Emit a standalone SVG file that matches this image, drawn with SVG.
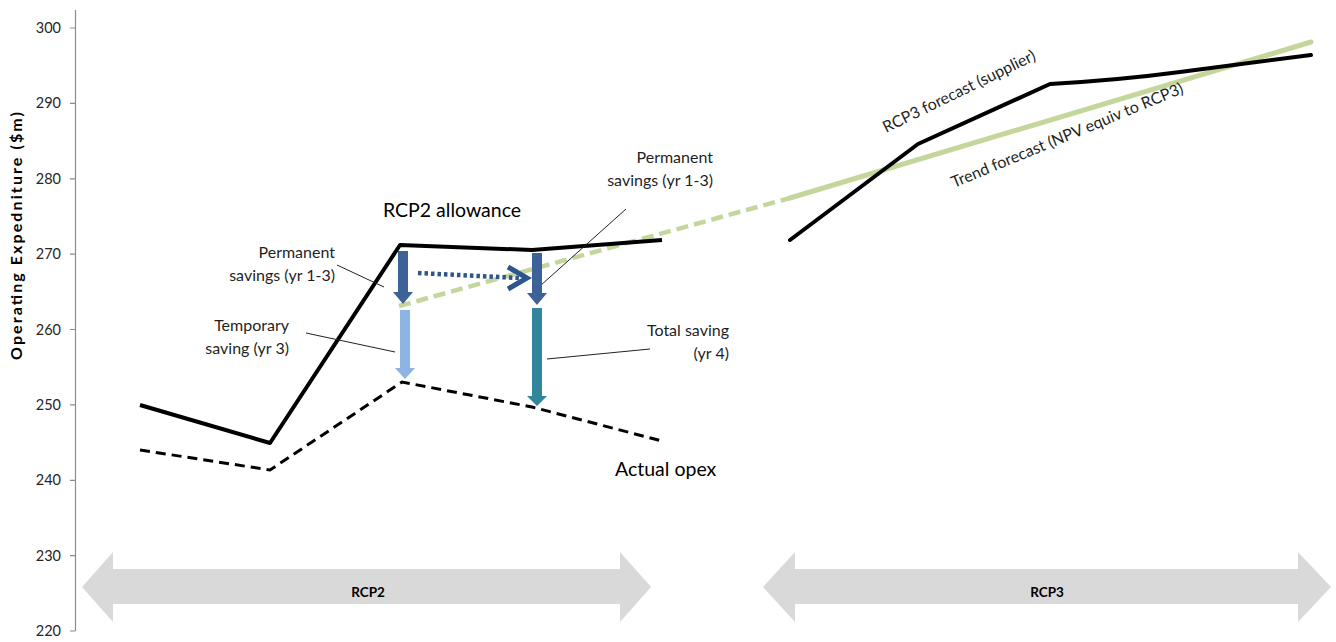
<svg xmlns="http://www.w3.org/2000/svg" width="1336" height="642" viewBox="0 0 1336 642">
<style>
.tick{font-family:Lato,"Liberation Sans",sans-serif;font-size:14.5px;fill:#262626;text-anchor:end}
.lbl{font-family:Lato,"Liberation Sans",sans-serif;font-size:16px;fill:#1f1f1f}
.big{font-family:Lato,"Liberation Sans",sans-serif;font-size:19.5px;fill:#000}
.band{font-family:Lato,"Liberation Sans",sans-serif;font-size:13.5px;font-weight:bold;fill:#000;text-anchor:middle}
.lead{stroke:#222;stroke-width:1;fill:none}
.axis{stroke:#8c8c8c;stroke-width:1.2;fill:none}
.gray{fill:#d9d9d9}
</style>
<rect width="1336" height="642" fill="#fff"/>
<g id="axis">
<path class="axis" d="M75.5,10 V631 M70,28 H75.5 M70,103.4 H75.5 M70,178.8 H75.5 M70,254.1 H75.5 M70,329.5 H75.5 M70,404.9 H75.5 M70,480.3 H75.5 M70,555.6 H75.5 M70,631 H75.5"/>
<text class="tick" x="61" y="33">300</text>
<text class="tick" x="61" y="108.4">290</text>
<text class="tick" x="61" y="183.8">280</text>
<text class="tick" x="61" y="259.1">270</text>
<text class="tick" x="61" y="334.5">260</text>
<text class="tick" x="61" y="409.9">250</text>
<text class="tick" x="61" y="485.3">240</text>
<text class="tick" x="61" y="560.6">230</text>
<text class="tick" x="61" y="636">220</text>
<text transform="translate(22,236) rotate(-90)" text-anchor="middle" font-family="Lato,'Liberation Sans',sans-serif" font-size="16" font-weight="bold" fill="#000" textLength="248" lengthAdjust="spacing">Operating Expedniture ($m)</text>
</g>
<g id="rcp2-band">
<path class="gray" d="M82,587 L113,552 L113,569 L620,569 L620,552 L651,587 L620,622 L620,604 L113,604 L113,622 Z"/>
<text class="band" x="368" y="597">RCP2</text>
</g>
<g id="rcp3-band">
<path class="gray" d="M763,587 L795,552 L795,569 L1298,569 L1298,552 L1331,587 L1298,622 L1298,604 L795,604 L795,622 Z"/>
<text class="band" x="1047" y="597">RCP3</text>
</g>
<g id="series">
<path id="trend-dashed" d="M399,306 L790,198" stroke="#c3d69b" stroke-width="4.5" fill="none" stroke-dasharray="12 6"/>
<path id="trend-solid" d="M790,198 L1311,42" stroke="#c3d69b" stroke-width="5" fill="none" stroke-linecap="round"/>
<path id="actual-opex" d="M140,450 L270,470 L402,382 L532,407 L662,441" stroke="#000" stroke-width="3" fill="none" stroke-dasharray="10 6"/>
<path id="rcp2-allowance" d="M140,405 L270,443 L400,245 L532,250 L662,240" stroke="#000" stroke-width="4" fill="none" stroke-linejoin="round"/>
<path id="rcp3-forecast" d="M790,240 L918,144 L1050,84 Q1120,80 1180,72 L1311,55" stroke="#000" stroke-width="4" fill="none" stroke-linejoin="round" stroke-linecap="round"/>
</g>
<g id="connectors">
<path class="lead" d="M337,265 L384,287"/>
<path class="lead" d="M306,333 L395,352"/>
<path class="lead" d="M626,209 L540,286"/>
<path class="lead" d="M650,349 L547,359"/>
<path d="M418,273 L519,278" stroke="#2f568c" stroke-width="4.5" fill="none" stroke-dasharray="3.5 3"/>
<path d="M508,267 L527,278 L508,289" stroke="#2f568c" stroke-width="5" fill="none"/>
</g>
<g id="arrow-perm-1">
<path d="M398,251 H408 V292 H413 L403,304 L393,292 H398 Z" fill="#3c6298"/>
</g>
<g id="arrow-temp">
<path d="M400,310 H410 V368 H415 L405,379 L395,368 H400 Z" fill="#8eb4e3"/>
</g>
<g id="arrow-perm-2">
<path d="M532,253 H542 V293 H547 L537,305 L527,293 H532 Z" fill="#3c6298"/>
</g>
<g id="arrow-total">
<path d="M532,308 H542 V396 H547 L537,406 L527,396 H532 Z" fill="#31859c"/>
</g>
<g id="labels">
<text class="big" x="383" y="217">RCP2 allowance</text>
<text class="lbl" x="335" y="258" text-anchor="end">Permanent</text>
<text class="lbl" x="335" y="281" text-anchor="end">savings (yr 1-3)</text>
<text class="lbl" x="289" y="331" text-anchor="end">Temporary</text>
<text class="lbl" x="289" y="354" text-anchor="end">saving (yr 3)</text>
<text class="lbl" x="713" y="163" text-anchor="end">Permanent</text>
<text class="lbl" x="713" y="186" text-anchor="end">savings (yr 1-3)</text>
<text class="lbl" x="729" y="336" text-anchor="end">Total saving</text>
<text class="lbl" x="729" y="359" text-anchor="end">(yr 4)</text>
<text class="big" x="615" y="476">Actual opex</text>
<text class="lbl" font-size="16.5" transform="translate(886,133) rotate(-26)">RCP3 forecast (supplier)</text>
<text class="lbl" transform="translate(954,188) rotate(-22.5)">Trend forecast (NPV equiv to RCP3)</text>
</g>
</svg>
